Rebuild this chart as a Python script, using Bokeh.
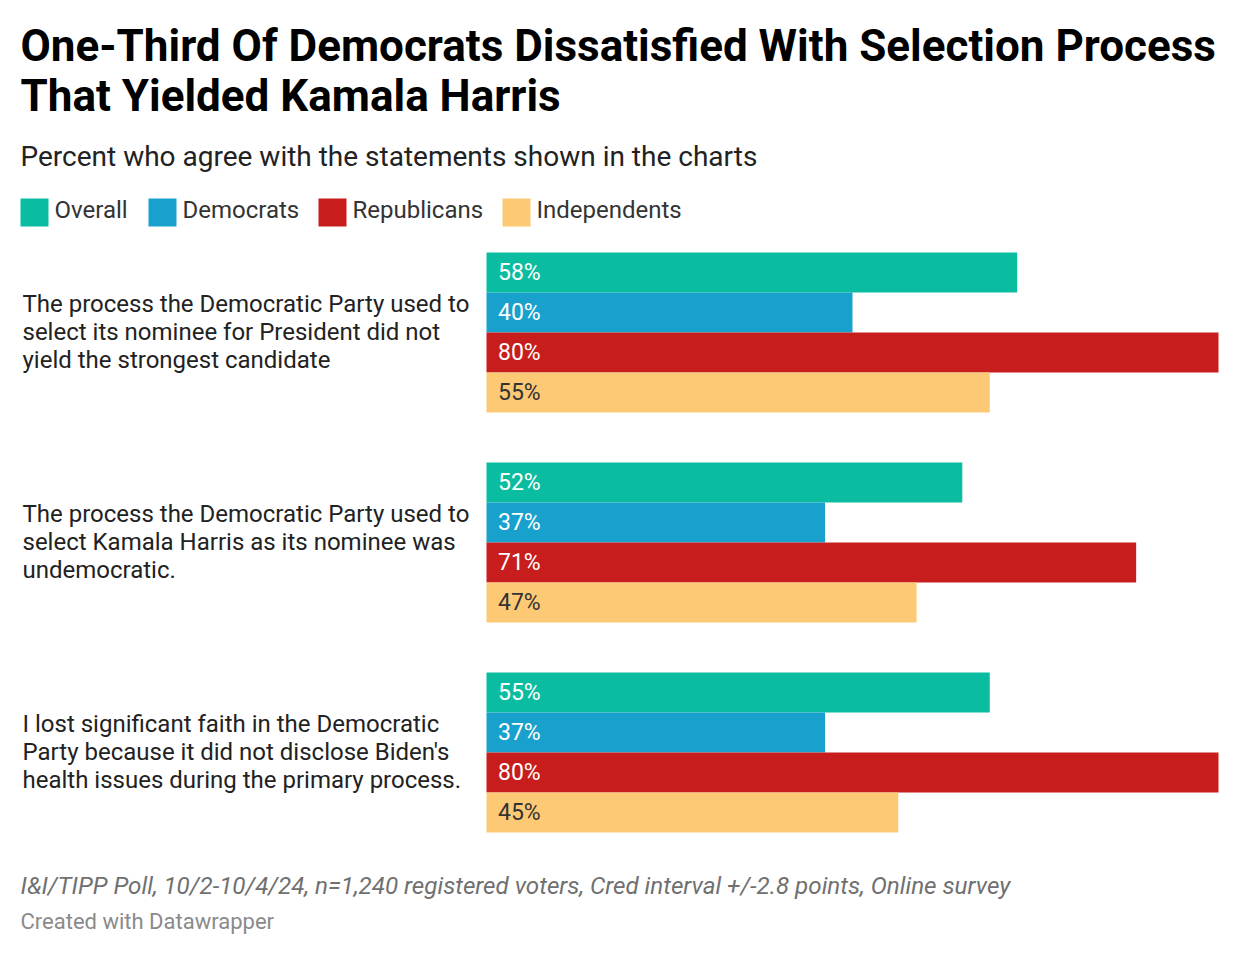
from bokeh.plotting import figure
from bokeh.models import Range1d, ColumnDataSource
from bokeh.core.properties import value
from bokeh.embed import file_html
from bokeh.resources import INLINE

# ---------------- data ----------------
title_lines = ["One-Third Of Democrats Dissatisfied With Selection Process",
               "That Yielded Kamala Harris"]
subtitle = "Percent who agree with the statements shown in the charts"
series = ["Overall", "Democrats", "Republicans", "Independents"]
colors = ["#0BBDA0", "#18A1CD", "#C71E1D", "#FEC975"]
label_colors = ["#ffffff", "#ffffff", "#ffffff", "#333333"]
questions = [
    ["The process the Democratic Party used to",
     "select its nominee for President did not",
     "yield the strongest candidate"],
    ["The process the Democratic Party used to",
     "select Kamala Harris as its nominee was",
     "undemocratic."],
    ["I lost significant faith in the Democratic",
     "Party because it did not disclose Biden's",
     "health issues during the primary process."],
]
overall = [58, 52, 55]
democrats = [40, 37, 37]
republicans = [80, 71, 80]
independents = [55, 47, 45]
source_note = "I&I/TIPP Poll, 10/2-10/4/24, n=1,240 registered voters, Cred interval +/-2.8 points, Online survey"
credit = "Created with Datawrapper"

# ---------------- layout ----------------
W, H = 1232, 950
BAR_X0 = 486          # canvas px where 0% sits
PX_PER_PCT = 9.15
GROUP_TOP = 252
GROUP_STEP = 210
BAR_H = 40
FONT = value("Roboto")

p = figure(width=W, height=H, output_backend="svg", toolbar_location=None,
           x_range=Range1d(-BAR_X0 / PX_PER_PCT, (W - BAR_X0) / PX_PER_PCT),
           y_range=Range1d(H, 0), min_border=0)
p.extra_x_ranges = {"px": Range1d(0, W)}
p.axis.visible = False
p.grid.visible = False
p.outline_line_color = None
p.background_fill_color = "white"
p.border_fill_color = "white"

all_vals = [overall, democrats, republicans, independents]

# bars
for si, (name, vals) in enumerate(zip(series, all_vals)):
    ys = [GROUP_TOP + GROUP_STEP * g + BAR_H * si + BAR_H / 2 for g in range(len(vals))]
    src = ColumnDataSource(dict(y=ys, right=vals))
    p.hbar(y="y", left=0, right="right", height=BAR_H, source=src,
           fill_color=colors[si], line_color=None)
    lsrc = ColumnDataSource(dict(x=[497.5] * len(vals), y=[y - 0.5 for y in ys],
                                 lbl=[f"{v}%" for v in vals]))
    p.text(x="x", y="y", text="lbl", source=lsrc, x_range_name="px",
           text_font=FONT, text_font_size="23px", text_color=label_colors[si],
           text_baseline="middle", text_align="left")

# question labels
qx, qy, qt = [], [], []
for g, lines in enumerate(questions):
    center = GROUP_TOP + GROUP_STEP * g + BAR_H * 2
    for li, line in enumerate(lines):
        qx.append(22)
        qy.append(center + (li - 1) * 28 - 1)
        qt.append(line)
p.text(x=qx, y=qy, text=qt, x_range_name="px", text_font=FONT,
       text_font_size="24px", text_color="#222222", text_baseline="middle")

# title
p.text(x=[20, 20], y=[45, 95], text=title_lines, x_range_name="px",
       text_font=FONT, text_font_size="44px", text_font_style="bold",
       text_color="#000000", text_baseline="middle")
# subtitle
p.text(x=[20], y=[156], text=[subtitle], x_range_name="px", text_font=FONT,
       text_font_size="28px", text_color="#222222", text_baseline="middle")

# legend
leg_x = [20, 148, 318, 502]
p.rect(x=[lx + 14 for lx in leg_x], y=[212] * 4, width=28, height=28,
       width_units="screen", height_units="screen",
       fill_color=colors, line_color=None, x_range_name="px")
p.text(x=[lx + 34 for lx in leg_x], y=[209] * 4, text=series, x_range_name="px",
       text_font=FONT, text_font_size="24px", text_color="#333333",
       text_baseline="middle")

# footer
p.text(x=[20], y=[885], text=[source_note], x_range_name="px", text_font=FONT,
       text_font_size="24.2px", text_font_style="italic", text_color="#707070",
       text_baseline="middle")
p.text(x=[20], y=[921], text=[credit], x_range_name="px", text_font=FONT,
       text_font_size="22px", text_color="#8a8a8a", text_baseline="middle")

open("out.html", "w").write(file_html(p, INLINE))
